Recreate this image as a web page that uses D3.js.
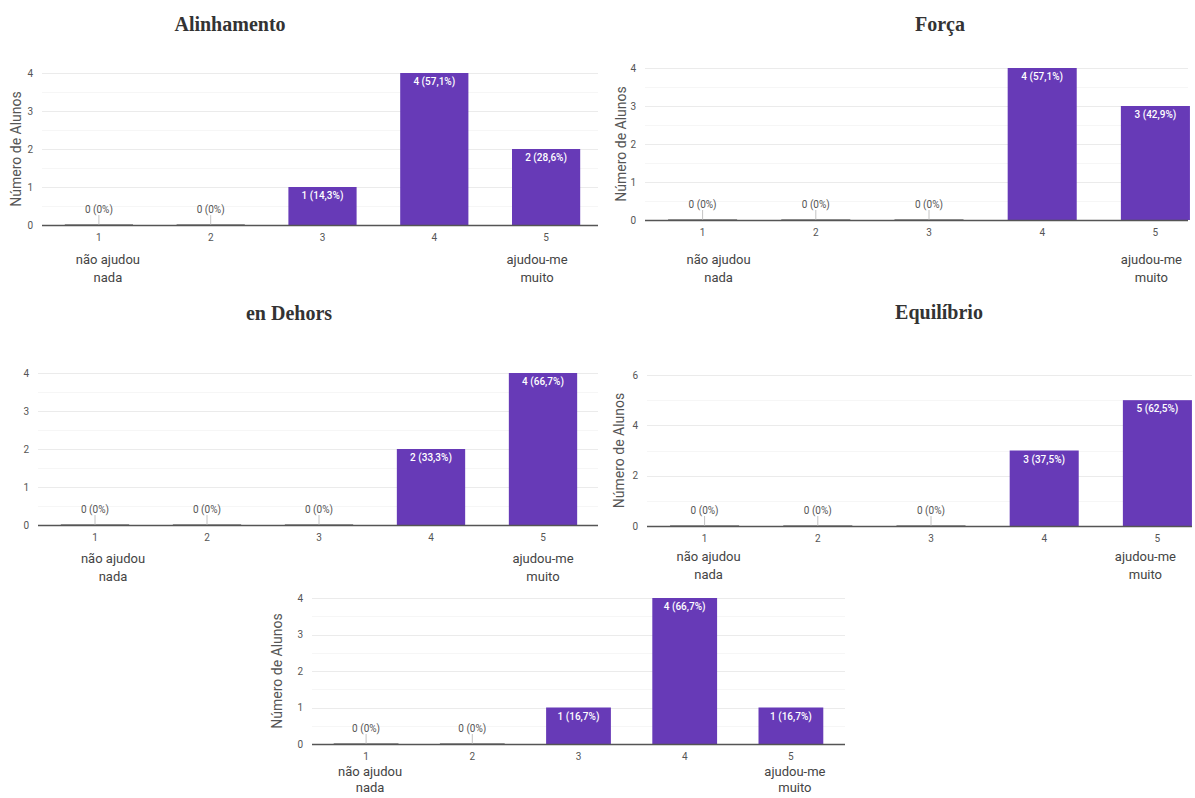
<!DOCTYPE html>
<html>
<head>
<meta charset="utf-8">
<script src="https://cdn.jsdelivr.net/npm/d3@7"></script>
<style>
  html, body { margin: 0; padding: 0; background: #fff; }
  svg { display: block; }
</style>
</head>
<body>
<svg id="chart" width="1195" height="798"></svg>
<script>
// Escala de respostas (1 a 5) e rótulos dos extremos
const categories = ["1", "2", "3", "4", "5"];
const lowEndLabel = ["não ajudou", "nada"];
const highEndLabel = ["ajudou-me", "muito"];
const axisTitle = "Número de Alunos";

// Número de alunos por resposta, em cada aspeto avaliado
const titles = ["Alinhamento", "Força", "en Dehors", "Equilíbrio", ""];
const alinhamento = [0, 0, 1, 4, 2];
const forca = [0, 0, 0, 4, 3];
const enDehors = [0, 0, 0, 2, 4];
const equilibrio = [0, 0, 0, 3, 5];
const ultimo = [0, 0, 1, 4, 1];

// Marcas do eixo vertical
const ticksUpTo4 = [0, 1, 2, 3, 4];
const ticksUpTo6 = [0, 2, 4, 6];

const svg = d3.select("#chart");
const purple = "#673ab7";
const font = "Roboto, 'Open Sans', Arial, sans-serif";

function pctLabel(v, total) {
  const p = v / total * 100;
  const s = Number.isInteger(p) ? String(p) : p.toFixed(1).replace(".", ",");
  return `${v} (${s}%)`;
}

function drawPanel(cfg) {
  const { values, title, ticks, yMax, minorStep, x0, x1, gridRight, yTop, yBottom,
          titleX, titleY, axisTitleX, showAxisTitle, tickY, endLabelY, lineGap, lowDx, highDx } = cfg;
  const g = svg.append("g");
  const total = d3.sum(values);

  const x = d3.scaleBand().domain(categories).range([x0, x1])
    .paddingInner(0.39).paddingOuter(0.195);
  const y = d3.scaleLinear().domain([0, yMax]).range([yBottom, yTop]);

  // título
  if (title) {
    g.append("text").attr("x", titleX).attr("y", titleY)
      .attr("text-anchor", "middle")
      .attr("font-family", "'Liberation Serif', 'Times New Roman', serif")
      .attr("font-weight", "bold").attr("font-size", 20).attr("fill", "#333")
      .text(title);
  }

  // grelha secundária
  const minor = d3.range(minorStep, yMax, minorStep * 2);
  g.append("g").selectAll("line").data(minor).join("line")
    .attr("x1", x0 - 1).attr("x2", gridRight)
    .attr("y1", d => Math.round(y(d)) + 0.5).attr("y2", d => Math.round(y(d)) + 0.5)
    .attr("stroke", "#f6f6f6");

  // grelha principal
  g.append("g").selectAll("line").data(ticks.filter(t => t > 0)).join("line")
    .attr("x1", x0 - 1).attr("x2", gridRight)
    .attr("y1", d => Math.round(y(d)) + 0.5).attr("y2", d => Math.round(y(d)) + 0.5)
    .attr("stroke", "#ebebeb");

  // eixo vertical (apenas os números)
  const yAxis = g.append("g").attr("transform", `translate(${x0 - 4},0)`)
    .call(d3.axisLeft(y).tickValues(ticks).tickSize(0).tickPadding(6).tickFormat(d3.format("d")));
  yAxis.select(".domain").remove();
  yAxis.selectAll("text").attr("font-family", font).attr("font-size", 10).attr("fill", "#555");

  const rows = values.map((v, i) => ({ v, c: categories[i] }));

  // barras
  g.append("g").selectAll("rect").data(rows.filter(d => d.v > 0))
    .join("rect")
    .attr("x", d => x(d.c)).attr("width", x.bandwidth())
    .attr("y", d => y(d.v)).attr("height", d => y(0) - y(d.v))
    .attr("fill", purple);

  // barras nulas: traço fino na linha de base e marcador vertical
  const zeros = rows.filter(d => d.v === 0);
  g.append("g").selectAll("rect").data(zeros).join("rect")
    .attr("x", d => x(d.c)).attr("width", x.bandwidth())
    .attr("y", y(0) - 1).attr("height", 1).attr("fill", "#9a9a9a");
  g.append("g").selectAll("line").data(zeros).join("line")
    .attr("x1", d => x(d.c) + x.bandwidth() / 2).attr("x2", d => x(d.c) + x.bandwidth() / 2)
    .attr("y1", y(0) - 10).attr("y2", y(0)).attr("stroke", "#c4c4c4");
  g.append("g").selectAll("text").data(zeros).join("text")
    .attr("x", d => x(d.c) + x.bandwidth() / 2).attr("y", y(0) - 12)
    .attr("text-anchor", "middle").attr("font-family", font).attr("font-size", 10)
    .attr("fill", "#555").text(d => pctLabel(d.v, total));

  // linha de base
  g.append("line").attr("x1", x0 - 1).attr("x2", gridRight)
    .attr("y1", y(0) + 0.5).attr("y2", y(0) + 0.5)
    .attr("stroke", "#555").attr("stroke-width", 1.3);

  // rótulos nas barras
  g.append("g").selectAll("text").data(rows.filter(d => d.v > 0))
    .join("text")
    .attr("x", d => x(d.c) + x.bandwidth() / 2).attr("y", d => y(d.v) + 12)
    .attr("text-anchor", "middle").attr("font-family", font).attr("font-size", 10)
    .attr("font-weight", 500).attr("fill", "#fff")
    .text(d => pctLabel(d.v, total));

  // eixo horizontal
  const xAxis = g.append("g").attr("transform", `translate(0,${tickY})`)
    .call(d3.axisBottom(x).tickSize(0).tickPadding(0));
  xAxis.select(".domain").remove();
  xAxis.selectAll("text").attr("font-family", font).attr("font-size", 10).attr("fill", "#555")
    .attr("dy", "0.35em");

  // rótulos dos extremos da escala
  const cx1 = x(categories[0]) + x.bandwidth() / 2 + lowDx;
  const cx5 = x(categories[4]) + x.bandwidth() / 2 + highDx;
  [[lowEndLabel, cx1], [highEndLabel, cx5]].forEach(([lines, cx]) => {
    lines.forEach((t, i) => {
      g.append("text").attr("x", cx).attr("y", endLabelY + i * lineGap)
        .attr("text-anchor", "middle").attr("font-family", font).attr("font-size", 13)
        .attr("fill", "#444").text(t);
    });
  });

  // título do eixo vertical
  if (showAxisTitle) {
    g.append("text")
      .attr("transform", `translate(${axisTitleX},${(yTop + yBottom) / 2}) rotate(-90)`)
      .attr("text-anchor", "middle").attr("font-family", font).attr("font-size", 14)
      .attr("fill", "#555").text(axisTitle);
  }
}

drawPanel({ values: alinhamento, title: titles[0], ticks: ticksUpTo4, yMax: 4, minorStep: 0.5,
  x0: 43, x1: 602, gridRight: 598, yTop: 73, yBottom: 225,
  titleX: 230, titleY: 31, axisTitleX: 21, showAxisTitle: true,
  tickY: 237, endLabelY: 264, lineGap: 18, lowDx: 9, highDx: -9 });

drawPanel({ values: forca, title: titles[1], ticks: ticksUpTo4, yMax: 4, minorStep: 0.5,
  x0: 646, x1: 1212, gridRight: 1188, yTop: 68, yBottom: 220,
  titleX: 940, titleY: 31, axisTitleX: 626, showAxisTitle: true,
  tickY: 232, endLabelY: 264, lineGap: 18, lowDx: 16, highDx: -4 });

drawPanel({ values: enDehors, title: titles[2], ticks: ticksUpTo4, yMax: 4, minorStep: 0.5,
  x0: 39, x1: 599, gridRight: 598, yTop: 373, yBottom: 525,
  titleX: 289, titleY: 320, axisTitleX: 18, showAxisTitle: false,
  tickY: 537, endLabelY: 563, lineGap: 18, lowDx: 18, highDx: 0 });

drawPanel({ values: equilibrio, title: titles[3], ticks: ticksUpTo6, yMax: 6, minorStep: 1,
  x0: 648, x1: 1214, gridRight: 1192, yTop: 375, yBottom: 526,
  titleX: 939, titleY: 319, axisTitleX: 624, showAxisTitle: true,
  tickY: 538, endLabelY: 561, lineGap: 18, lowDx: 4, highDx: -12 });

drawPanel({ values: ultimo, title: titles[4], ticks: ticksUpTo4, yMax: 4, minorStep: 0.5,
  x0: 313, x1: 844, gridRight: 845, yTop: 598, yBottom: 744,
  titleX: 578, titleY: 580, axisTitleX: 282, showAxisTitle: true,
  tickY: 756, endLabelY: 776, lineGap: 16, lowDx: 4, highDx: 4 });
</script>
</body>
</html>
